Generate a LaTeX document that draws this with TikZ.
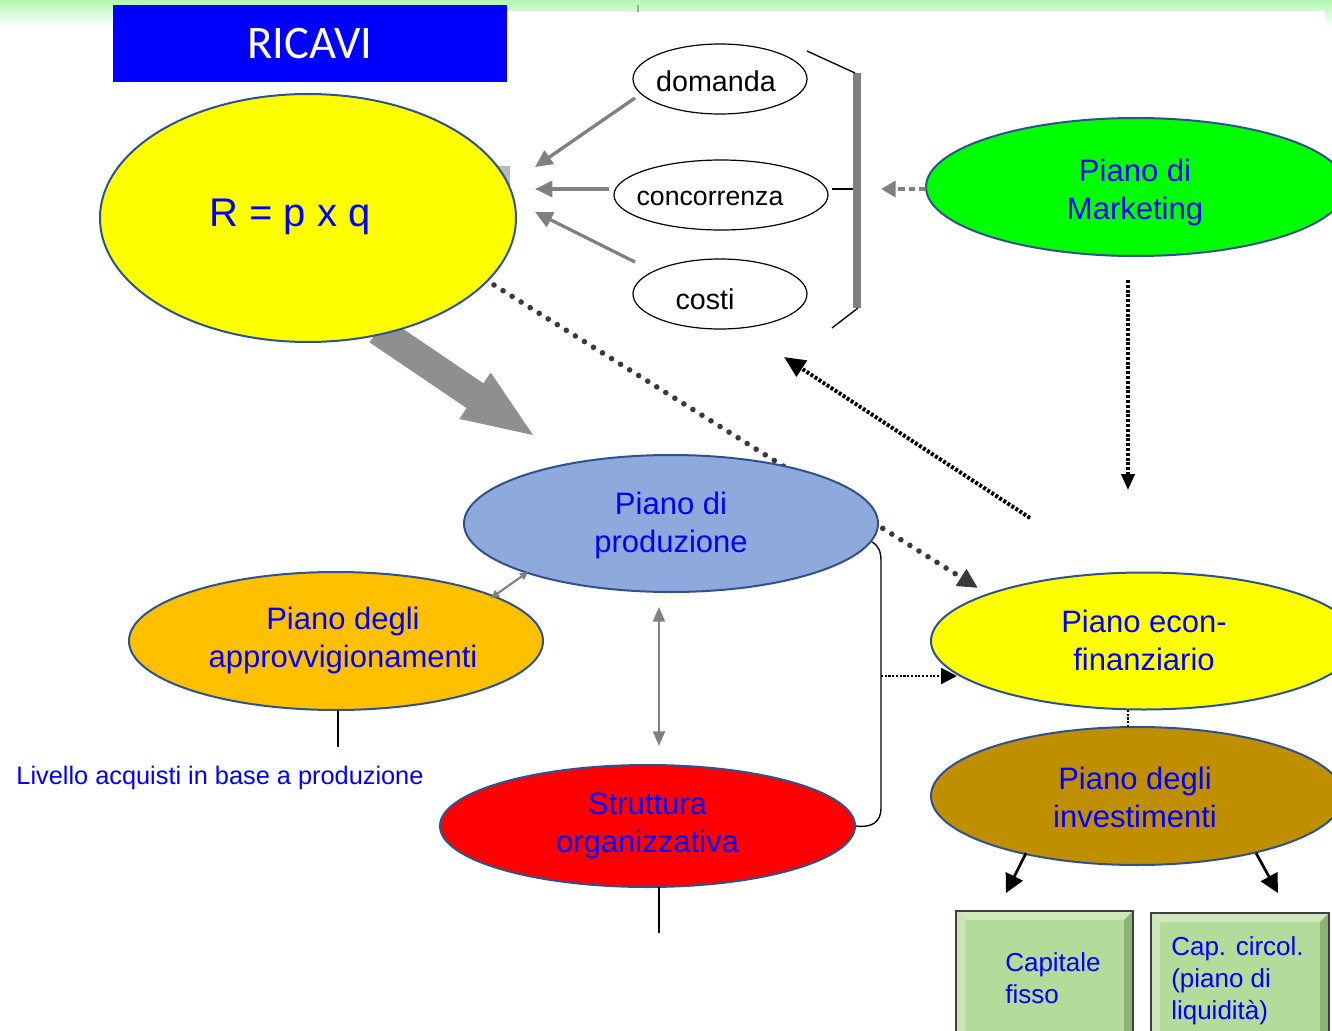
\documentclass[tikz,border=0pt]{standalone}
\usepackage{fontspec}
\setmainfont{Liberation Sans}
\newfontfamily\titlefont{Carlito}
\usetikzlibrary{shapes.geometric,arrows.meta,calc}

\definecolor{txtblue}{HTML}{0000FF}
\definecolor{ellblue}{HTML}{2F528F}
\definecolor{topgreen}{HTML}{B4F7B4}
\definecolor{pureyellow}{HTML}{FFFF00}
\definecolor{puregreen}{HTML}{00FF00}
\definecolor{purered}{HTML}{FF0000}
\definecolor{prodblue}{HTML}{8EA9DB}
\definecolor{approvorange}{HTML}{FFC000}
\definecolor{investgold}{HTML}{BF8F00}
\definecolor{arrowgray}{HTML}{808080}
\definecolor{blockgray}{HTML}{8F8F8F}
\definecolor{dotgray}{HTML}{3A3A3A}
\definecolor{boxface}{HTML}{B3DB99}
\definecolor{boxlight}{HTML}{CFE9BD}
\definecolor{boxdark}{HTML}{8DB274}
\definecolor{boxedge}{HTML}{3F3F3F}

\tikzset{
  % coloured plan ellipses: #1 = half width, #2 = half height (in px units)
  oval/.style 2 args={ellipse, draw=ellblue, line width=1.5pt, inner sep=0pt,
    minimum width={#1*1.5pt}, minimum height={#2*1.5pt}, text=txtblue,
    align=center, font=\fontsize{23.25}{28.5}\selectfont},
  ovaltext/.style={inner sep=0pt, text=txtblue, align=center,
    font=\fontsize{23.25}{28.5}\selectfont},
  % white factor ellipses (domanda, concorrenza, costi)
  factor/.style 2 args={ellipse, draw=black, line width=0.9pt, fill=white,
    inner sep=0pt, minimum width={#1*1.5pt}, minimum height={#2*1.5pt}},
  factortext/.style={inner sep=0pt, font=\fontsize{21.5}{24}\selectfont},
  grayarrow/.style={draw=arrowgray, line width=2.5pt,
    -{Triangle[length=13pt,width=12pt]}},
  dotarrow/.style={draw=dotgray, line width=4.2pt, line cap=round,
    dash pattern=on 0pt off 8pt, -{Triangle[length=15pt,width=14pt]}},
  densedot/.style={draw=black, line width=3pt, dash pattern=on 2.2pt off 1.4pt},
  finedot/.style={draw=black, line width=1.8pt, dash pattern=on 1.6pt off 1.2pt},
  boxtext/.style={anchor=west, inner sep=0pt, align=left, text=txtblue,
    font=\fontsize{19.5}{24}\selectfont},
}

% bevelled green box: left x, top y, right x, bottom y (px units)
\newcommand{\bevelbox}[4]{%
  \fill[boxface] (#1,#2) rectangle (#3,#4);
  \fill[boxlight] (#1,#2) -- (#3,#2) -- (#3-9,#2+9) -- (#1+9,#2+9) -- cycle;
  \fill[boxlight!85!boxface] (#1,#2) -- (#1+9,#2+9) -- (#1+9,#4-9) -- (#1,#4) -- cycle;
  \fill[boxdark] (#3,#2) -- (#3,#4) -- (#3-9,#4-9) -- (#3-9,#2+9) -- cycle;
  \draw[boxedge, line width=2pt] (#1,#2) rectangle (#3,#4);
}

\begin{document}
\begin{tikzpicture}[x=0.75pt,y=-0.75pt]
\useasboundingbox (0,0) rectangle (1332,1031);
\clip (0,0) rectangle (1332,1031);
\fill[white] (0,0) rectangle (1332,1031);

% header band
\shade[top color=topgreen, bottom color=white] (0,0) rectangle (1332,28);
\fill[white] (508,11) rectangle (1325,40);
\draw[arrowgray!70, line width=1pt] (638,5) -- (638,12);

% title
\node[fill=txtblue, minimum width=295.5pt, minimum height=57.75pt, inner sep=0pt,
  text=white, font=\titlefont\fontsize{35}{40}\selectfont] (title) at (310,43.5) {RICAVI};

% block arrow towards production
\fill[blockgray] (386.4,317.6) -- (483.4,383.3) -- (490.7,372.5) -- (533,435)
  -- (459.3,418.9) -- (466.6,408.1) -- (369.6,342.4) -- cycle;
\fill[gray!55] (497,166) rectangle (510,245);

% revenue ellipse
\node[oval={208}{124}, fill=pureyellow] (R) at (308,218) {};
\node[ovaltext, font=\fontsize{30}{36}\selectfont] (Rtext) at (290,217) {R = p x q};

% dotted link revenue -> economic-financial plan (passes under production)
\coordinate (rstart) at (494,285);
\coordinate (etip) at (978,588);
\draw[dotarrow] (rstart) -- (etip);

% factors
\node[factor={87}{35}] (dom) at (720,79) {};
\node[factor={107}{35}] (conc) at (721,195) {};
\node[factor={87}{35}] (cost) at (720,294) {};
\node[factortext] (domt) at (716,81) {domanda};
\node[factortext, font=\fontsize{20}{24}\selectfont] (conct) at (710,198) {concorrenza};
\node[factortext] (costt) at (705,299) {costi};

\coordinate (ta) at (535,167);
\coordinate (tb) at (535,189);
\coordinate (tc) at (535,212);
\draw[grayarrow] (635,98) -- (ta);
\draw[grayarrow] (609,189) -- (tb);
\draw[grayarrow] (635,262) -- (tc);

% bracket grouping the factors
\fill[arrowgray] (853,73) rectangle (861,308);
\draw[line width=1pt] (807,51) -- (855,73);
\draw[line width=1pt] (858,308) -- (832,328);
\draw[line width=1pt] (832,189) -- (853,189);

% marketing plan
\fill[teal] (1130,254) ellipse [x radius=26pt, y radius=2pt];
\node[oval={210}{69}, fill=puregreen] (mkt) at (1136,187) {};
\node[ovaltext] (mktt) at (1135,192) {Piano di\\Marketing};
\coordinate (mtip) at (881,189);
\draw[draw=arrowgray, line width=3pt, dash pattern=on 5pt off 3pt,
  -{Triangle[length=11pt,width=12pt]}] (926,189) -- (mtip);

\coordinate (mdown) at (1128,280);
\coordinate (mdowntip) at (1128,490);
\draw[densedot, line width=2.5pt, -{Triangle[length=12pt,width=10pt]}] (mdown) -- (mdowntip);

% feedback from economic-financial plan
\coordinate (fbstart) at (1030,518);
\coordinate (fbtip) at (784,357);
\draw[densedot, -{Triangle[length=16pt,width=14pt]}] (fbstart) -- (fbtip);

% operational plans
\node[oval={207}{68.5}, fill=prodblue] (prod) at (671,523.5) {};
\node[ovaltext] (prodt) at (671,525) {Piano di\\produzione};
\node[oval={207}{69}, fill=approvorange] (appr) at (336,641) {};
\node[ovaltext] (apprt) at (343,640) {Piano degli\\approvvigionamenti};
\node[oval={207.5}{61}, fill=purered] (strut) at (647.5,826) {Struttura\\organizzativa};
\node[oval={213}{68.5}, fill=pureyellow] (econ) at (1144,641) {};
\node[ovaltext] (econt) at (1144,640) {Piano econ-\\finanziario};
\node[oval={206}{69}, fill=investgold] (inv) at (1137,796) {};
\node[ovaltext] (invt) at (1135,797) {Piano degli\\investimenti};

% links between production, purchasing and organisation
\draw[draw=arrowgray, line width=1.6pt, {Triangle[length=6pt,width=6pt]}-{Triangle[length=6pt,width=6pt]}]
  (528,572) -- (491,598);
\draw[draw=arrowgray, line width=1.6pt, {Triangle[length=11pt,width=9pt]}-{Triangle[length=11pt,width=9pt]}]
  (659,607) -- (659,746);

\draw[line width=1.2pt] (appr.south) ++(2,0) -- ++(0,36);
\node[text=txtblue, font=\fontsize{19}{23}\selectfont, inner sep=0pt] (liv) at (220,778)
  {Livello acquisti in base a produzione};
\draw[line width=1.2pt] (659,887) -- (659,933);

% bracket joining production and organisation to the economic-financial plan
\draw[line width=1pt] (872,542) .. controls (879,546) and (881,552) .. (881,562)
  -- (881,808) .. controls (881,822) and (872,828) .. (strut.east);
\coordinate (bj) at (881,676);
\coordinate (bjtip) at (957,676);
\draw[finedot, -{Triangle[length=12pt,width=12pt]}] (bj) -- (bjtip);

\draw[finedot, line width=2.2pt] (1128,710) -- (1128,727);

% investment outcomes
\coordinate (cftip) at (1006,893);
\coordinate (cctip) at (1278,893);
\draw[line width=2pt, -{Triangle[length=14pt,width=14pt]}] (1026,853) -- (cftip);
\draw[line width=2pt, -{Triangle[length=14pt,width=14pt]}] (1256,853) -- (cctip);

\bevelbox{956}{911}{1133}{1040}
\bevelbox{1151}{913}{1329}{1040}
\node[boxtext] (cf) at (1005,978) {Capitale\\fisso};
\node[boxtext] (cc) at (1171,981) {Cap. circol.\\(piano di\\liquidità)};
\end{tikzpicture}
\end{document}
